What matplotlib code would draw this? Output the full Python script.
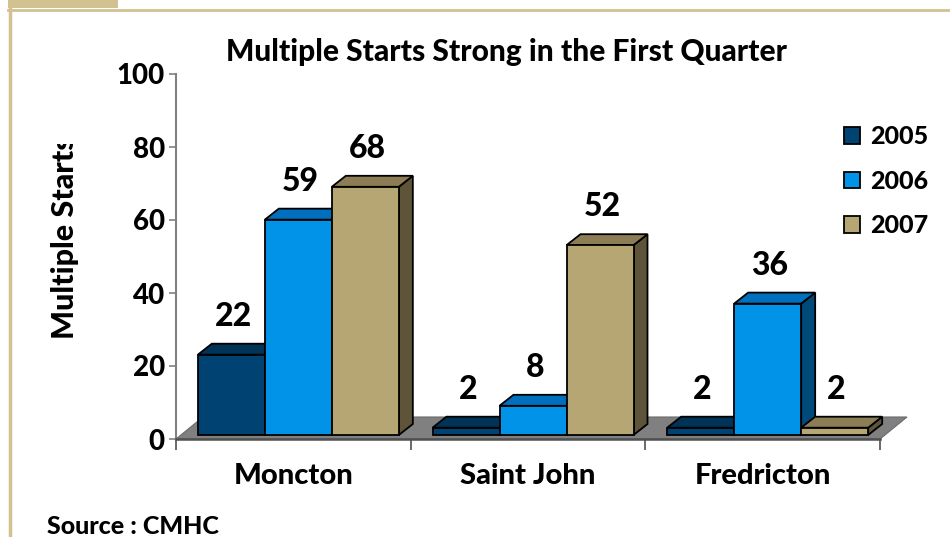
import matplotlib
matplotlib.use("Agg")
import matplotlib.pyplot as plt
from matplotlib.patches import Polygon, Rectangle
from matplotlib.lines import Line2D
from matplotlib.transforms import ScaledTranslation, Bbox, TransformedBbox

plt.rcParams['font.family'] = ['Lato', 'DejaVu Sans']
HEAVY = "black"

# ---- data ----
categories = ["Moncton", "Saint John", "Fredricton"]
years = ["2005", "2006", "2007"]
starts_2005 = [22, 2, 2]
starts_2006 = [59, 8, 36]
starts_2007 = [68, 52, 2]
series = [starts_2005, starts_2006, starts_2007]
y_ticks = [0, 20, 40, 60, 80, 100]

# ---- styles ----
front_cols = ["#004272", "#0093E8", "#B6A673"]
top_cols = ["#003356", "#0070BE", "#8C7D56"]
side_cols = ["#00263F", "#004A7A", "#5E5439"]
tan = "#D3C291"

W, H, DPI = 950, 537, 100
fig = plt.figure(figsize=(W / DPI, H / DPI), dpi=DPI)
ax_l, ax_r, ax_t, ax_b = 176, 880, 74, 439
ax = fig.add_axes([ax_l / W, (H - ax_b) / H, (ax_r - ax_l) / W, (ax_b - ax_t) / H])
ax.set_xlim(-0.5, 2.5)
ax.set_ylim(0, 100)

# pixel -> data unit conversions
px_x = 3.0 / (ax_r - ax_l)
px_y = 100.0 / (ax_b - ax_t)

# floor
fdx, fdy = 27 * px_x, 22 * px_y
floor = Polygon([(-0.5, 0), (2.5, 0), (2.5 + fdx, fdy), (-0.5 + fdx, fdy)],
                closed=True, facecolor="#808080", edgecolor="#6a6a6a", lw=0.8,
                clip_on=False, zorder=1)
ax.add_patch(floor)

# bars with depth
off = ScaledTranslation(5 / DPI, 4 / DPI, fig.dpi_scale_trans)
trans = ax.transData + off
bw = 67 * px_x
ddx, ddy = 14 * px_x, 11 * px_y
z = 2
for ci in range(len(categories)):
    for si, vals in enumerate(series):
        h = vals[ci]
        x0 = ci + (si - 1) * bw - bw / 2
        x1 = x0 + bw
        side = Polygon([(x1, 0), (x1, h), (x1 + ddx, h + ddy), (x1 + ddx, ddy)],
                       closed=True, facecolor=side_cols[si], edgecolor="black",
                       lw=1.3, transform=trans, clip_on=False, zorder=z)
        top = Polygon([(x0, h), (x1, h), (x1 + ddx, h + ddy), (x0 + ddx, h + ddy)],
                      closed=True, facecolor=top_cols[si], edgecolor="black",
                      lw=1.3, transform=trans, clip_on=False, zorder=z)
        ax.add_patch(side)
        ax.add_patch(top)
        bars = ax.bar([x0 + bw / 2], [h], width=bw, color=front_cols[si],
                      edgecolor="black", lw=1.3, zorder=z,
                      label=years[si] if ci == 0 else None)
        for p in bars:
            p.set_transform(trans)
            p.set_clip_on(False)
        ax.annotate(str(h), (x0 + bw / 2, h), xytext=(5, 20),
                    textcoords="offset points", ha="center", va="bottom",
                    fontsize=23, fontweight=HEAVY, zorder=10,
                    annotation_clip=False)
        z += 1

# axes styling
for s in ["top", "right"]:
    ax.spines[s].set_visible(False)
ax.spines["left"].set_color("#808080")
ax.spines["left"].set_linewidth(1.5)
ax.spines["bottom"].set_color("#505050")
ax.spines["bottom"].set_linewidth(1.8)
ax.spines["left"].set_zorder(0.5)
ax.set_yticks(y_ticks)
ax.set_yticklabels([str(t) for t in y_ticks], fontsize=20, fontweight=HEAVY)
ax.tick_params(axis="y", length=5, width=1.2, color="#808080", pad=3)
ax.set_xticks(range(len(categories)))
ax.set_xticklabels(categories, fontsize=21, fontweight=HEAVY)
ax.tick_params(axis="x", which="major", length=0, pad=17)
ax.set_xticks([-0.5, 0.5, 1.5, 2.5], minor=True)
ax.tick_params(axis="x", which="minor", length=8, width=1.2, color="#505050")

# y label (clipped like the original)
yl = fig.text(65 / W, 1 - 238 / H, "Multiple Starts", rotation=90,
              ha="center", va="center", fontsize=22, fontweight=HEAVY)
yl.set_clip_box(TransformedBbox(Bbox([[0, 0], [1, 1 - 144 / H]]), fig.transFigure))
yl.set_clip_on(True)

# title
fig.text(506 / W, 1 - 52 / H, "Multiple Starts Strong in the First Quarter",
         ha="center", va="center", fontsize=21.5, fontweight=HEAVY)

# legend
leg = ax.legend(loc="upper left", bbox_to_anchor=(831 / W, 1 - 113 / H),
                bbox_transform=fig.transFigure, frameon=False,
                fontsize=18, handlelength=0.65, handleheight=0.65,
                handletextpad=0.4, labelspacing=0.85, borderpad=0)
for t in leg.get_texts():
    t.set_fontweight(HEAVY)
for p in leg.get_patches():
    p.set_linewidth(1.3)

# source
fig.text(47 / W, 1 - 526 / H, "Source : CMHC", ha="left", va="center",
         fontsize=18, fontweight=HEAVY)

# frame decorations
fig.add_artist(Rectangle((8 / W, 1 - 8 / H), 110 / W, 8 / H, transform=fig.transFigure,
                         facecolor=tan, edgecolor="none"))
fig.add_artist(Line2D([8 / W, 1], [1 - 9.5 / H, 1 - 9.5 / H], transform=fig.transFigure,
                      color=tan, lw=2))
fig.add_artist(Line2D([9.5 / W, 9.5 / W], [0, 1 - 8 / H], transform=fig.transFigure,
                      color=tan, lw=2.5))

fig.savefig("out.png", dpi=DPI)
